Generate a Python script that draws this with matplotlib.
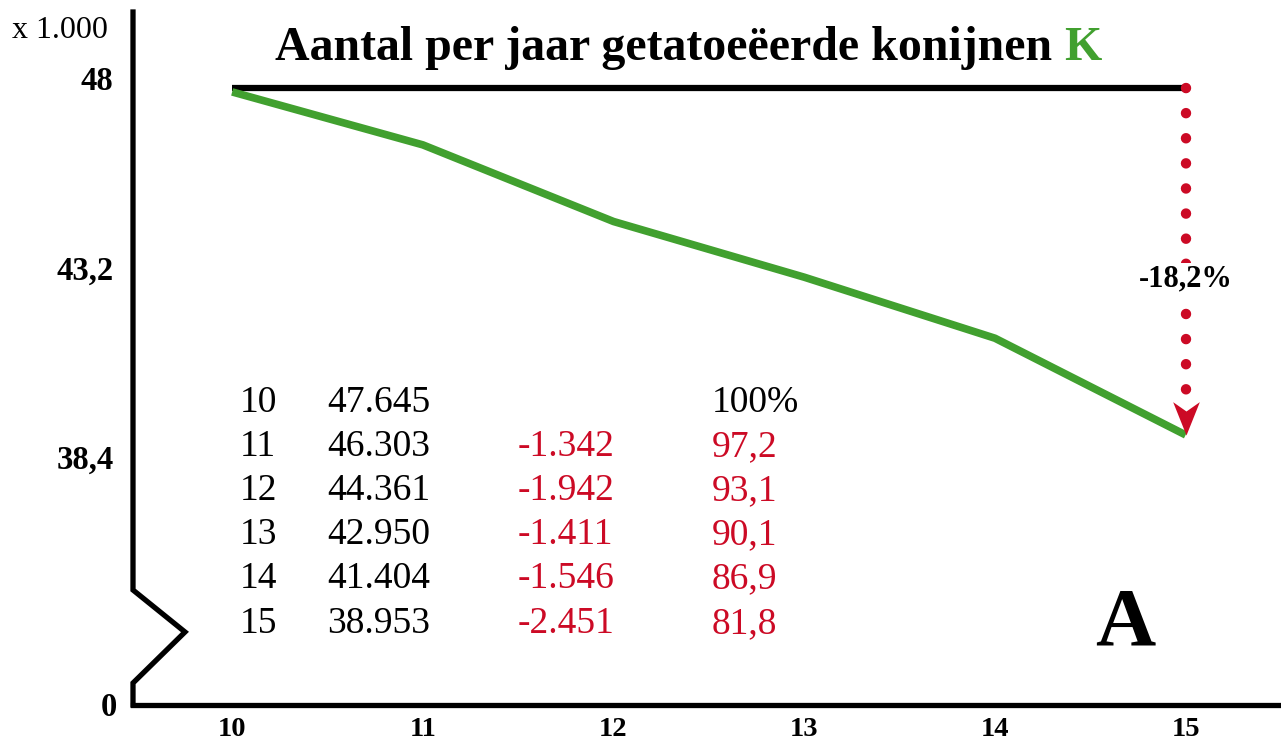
import numpy as np
import matplotlib
matplotlib.use("Agg")
from matplotlib import pyplot as plt
from matplotlib.path import Path

# data
years = [10, 11, 12, 13, 14, 15]
values = [47.645, 46.303, 44.361, 42.950, 41.404, 38.953]   # x 1.000
value_labels = ["47.645", "46.303", "44.361", "42.950", "41.404", "38.953"]
diff_labels = ["", "-1.342", "-1.942", "-1.411", "-1.546", "-2.451"]
pct_labels = ["100%", "97,2", "93,1", "90,1", "86,9", "81,8"]
ytick_vals = [48, 43.2, 38.4]
ytick_labels = ["48", "43,2", "38,4"]
ref_level = 47.75
change_label = "-18,2%"

green = "#41a02f"
red = "#cc0a25"
serif = "Liberation Serif"
plt.rcParams["font.family"] = [serif, "DejaVu Serif"]

W, H = 1281, 744
fig = plt.figure(figsize=(W / 100, H / 100), dpi=100)
ax = fig.add_axes([133 / W, (H - 705) / H, (W - 133) / W, (705 - 12) / H])

ymin, ymax = 32.11, 49.67
ax.set_xlim(9.48, 15.5)
ax.set_ylim(ymin, ymax)

# green series
ax.plot(years, values, color=green, lw=5.5, solid_capstyle="butt", zorder=3)

# reference level and dotted drop arrow
ax.plot([years[0], years[-1]], [ref_level, ref_level], color="black", lw=4.5,
        solid_capstyle="butt", zorder=2)
ax.plot([years[-1], years[-1]], [ref_level, values[-1] + 1.05], color=red, lw=7.5,
        linestyle=(0, (0.01, 2.4)), dash_capstyle="round", zorder=2)
head = Path([(0, 0), (-0.4, 1.0), (0, 0.72), (0.4, 1.0), (0, 0)],
            [Path.MOVETO, Path.LINETO, Path.LINETO, Path.LINETO, Path.CLOSEPOLY])
ax.plot([years[-1]], [values[-1]], marker=head, markersize=48, color=red,
        markeredgewidth=0, linestyle="none", zorder=4)
ax.text(years[-1], 42.9, change_label, ha="center", va="center", fontsize=22,
        fontweight="bold", zorder=5,
        bbox=dict(facecolor="white", edgecolor="none", pad=1))

# axes styling
for s in ["top", "right", "left"]:
    ax.spines[s].set_visible(False)
ax.spines["bottom"].set_linewidth(3.8)
ax.spines["bottom"].set_capstyle("projecting")
ax.set_xticks(years)
ax.set_xticklabels([str(y) for y in years], fontsize=20.5, fontweight="bold")
ax.set_yticks(ytick_vals)
ax.set_yticklabels(ytick_labels, fontsize=23.5, fontweight="bold")
ax.tick_params(axis="both", length=0)
ax.tick_params(axis="x", pad=9)
ax.tick_params(axis="y", pad=14)
fig.text(117 / W, 1 - 707 / H, "0", ha="right", va="center", fontsize=23.5,
         fontweight="bold")

# broken y axis
bx = [0, 0, 52 / 1148, 0, 0]
by = [1, (705 - 590) / 693, (705 - 632) / 693, (705 - 683) / 693, 0]
ax.plot(bx, by, color="black", lw=3.8, transform=ax.transAxes, clip_on=False,
        solid_joinstyle="miter", solid_capstyle="projecting")

# title
title_y = 1 - 48 / H
t1 = fig.text(688 / W, title_y, "Aantal per jaar getatoeëerde konijnen ",
              ha="center", va="center", fontsize=34.5, fontweight="bold")
kt = fig.text(0, title_y, "K", va="center", fontsize=34.5, fontweight="bold",
              color=green)
fig.canvas.draw()
r = fig.canvas.get_renderer()
kw = kt.get_window_extent(renderer=r).width
t1.set_position(((688 - kw / 2) / W, title_y))
fig.canvas.draw()
bb = t1.get_window_extent(renderer=r)
kt.set_position((bb.x1 / W, title_y))

fig.text(12 / W, 1 - 30 / H, "x 1.000", ha="left", va="center", fontsize=23)

# table
col_x = [240, 327, 518, 712]
row_y = [403, 447, 491, 535, 579, 624]
fs = 27
for i in range(len(years)):
    y = 1 - row_y[i] / H
    fig.text(col_x[0] / W, y, str(years[i]), ha="left", va="center", fontsize=fs)
    fig.text(col_x[1] / W, y, value_labels[i], ha="left", va="center", fontsize=fs)
    fig.text(col_x[2] / W, y, diff_labels[i], ha="left", va="center", fontsize=fs, color=red)
    fig.text(col_x[3] / W, y, pct_labels[i], ha="left", va="center", fontsize=fs,
             color="black" if i == 0 else red)

fig.text(1125 / W, 1 - 625 / H, "A", ha="center", va="center", fontsize=60,
         fontweight="bold")

fig.savefig("out.png", dpi=100)
